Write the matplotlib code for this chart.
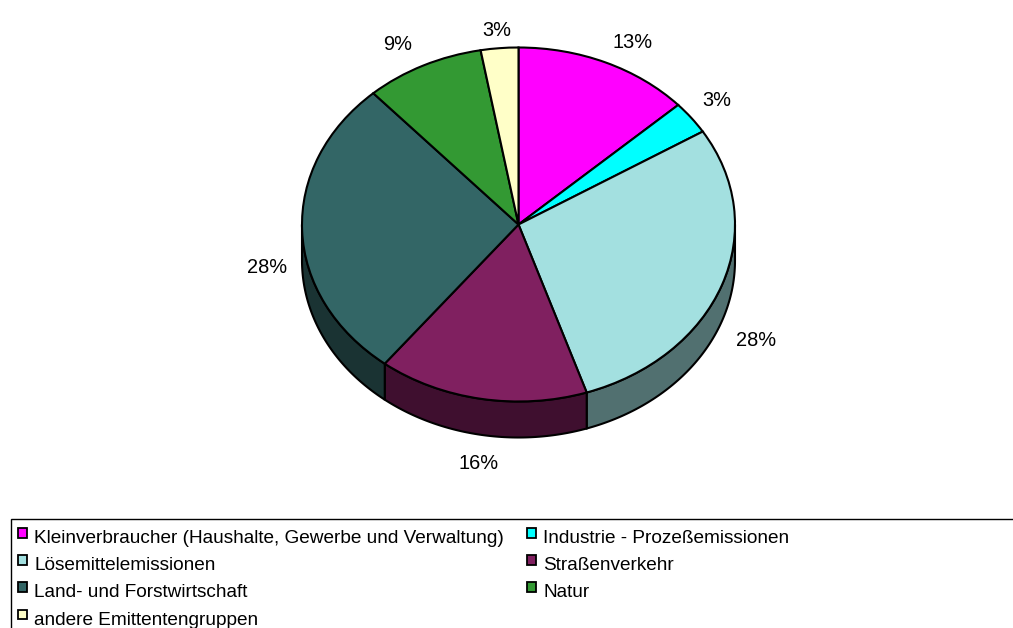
import matplotlib
matplotlib.use("Agg")
import matplotlib.pyplot as plt
from matplotlib.patches import Rectangle, Patch
from matplotlib.legend_handler import HandlerPatch
import numpy as np

plt.rcParams['font.family'] = ['Liberation Sans', 'DejaVu Sans']

# Anteile
categories = ["Kleinverbraucher (Haushalte, Gewerbe und Verwaltung)",
              "Industrie - Prozeßemissionen", "Lösemittelemissionen",
              "Straßenverkehr", "Land- und Forstwirtschaft", "Natur",
              "andere Emittentengruppen"]
shares = [13.2, 3.0, 28.7, 15.7, 27.7, 8.9, 2.8]
share_labels = ["13%", "3%", "28%", "16%", "28%", "9%", "3%"]

top_colors = ["#FF00FF", "#00FFFF", "#A3E0E0", "#802060", "#336666", "#339933", "#FFFFC8"]
side_colors = ["#800080", "#008080", "#517070", "#3F0F2F", "#1A3333", "#1A4D1A", "#808060"]
# Versatz der Beschriftungen in Pixel
label_offsets = [(27, 20), (26, 17), (34, -56), (-3, -65), (-35, -37), (-26, 21), (-3, 18)]
legend_order = [0, 2, 4, 6, 1, 3, 5]

W, H = 1013, 628
cx, cy = 518.5, 224.5
rx, ry = 216.5, 177
depth = 36 / ry

fig = plt.figure(figsize=(W / 100, H / 100), dpi=100)
ax = fig.add_axes([0, 0, 1, 1])

# Seitenwand
edges = np.cumsum([0] + shares) / sum(shares) * 2 * np.pi
for i in range(len(shares)):
    a0 = max(edges[i], np.pi / 2)
    a1 = min(edges[i + 1], 3 * np.pi / 2)
    if a1 <= a0:
        continue
    t = np.linspace(a0, a1, 80)
    xs = np.r_[np.sin(t), np.sin(t[::-1])]
    ys = np.r_[np.cos(t), np.cos(t[::-1]) - depth]
    ax.fill(xs, ys, facecolor=side_colors[i], edgecolor="black", lw=1.5, clip_on=False, zorder=1)

wedges, _ = ax.pie(shares, colors=top_colors, startangle=90, counterclock=False, radius=1,
                   wedgeprops=dict(edgecolor="black", linewidth=1.5, zorder=2))

ax.set_aspect('auto')
ax.set_xlim(-cx / rx, (W - cx) / rx)
ax.set_ylim((cy - H) / ry, cy / ry)

for i, lab in enumerate(share_labels):
    mid = (edges[i] + edges[i + 1]) / 2
    ax.annotate(lab, xy=(np.sin(mid), np.cos(mid)), xytext=label_offsets[i],
                textcoords='offset pixels', ha='center', va='center', fontsize=14.4, color="black")

# Legendenrahmen läuft über den Bildrand hinaus
fig.add_artist(Rectangle((11 / W, -0.1), 1.1, (H - 519) / H + 0.1, transform=fig.transFigure,
                         facecolor="none", edgecolor="black", lw=1))


# Kästchen sitzen etwas höher als die Textmitte
def raised_box(legend, orig_handle, xdescent, ydescent, width, height, fontsize):
    return Rectangle((-xdescent, -ydescent + 2.5), width, height)


handles = [Patch(facecolor=top_colors[i], edgecolor="black", linewidth=1.3) for i in legend_order]
labels = [categories[i] for i in legend_order]
fig.legend(handles, labels, ncols=2, loc='upper left', bbox_to_anchor=(18 / W, 1 - 530 / H),
           frameon=False, fontsize=13.65, borderpad=0, borderaxespad=0, handlelength=0.5,
           handleheight=0.42, handletextpad=0.36, labelspacing=0.54, columnspacing=1.2,
           handler_map={Patch: HandlerPatch(patch_func=raised_box)})

fig.savefig("out.png", dpi=100)
